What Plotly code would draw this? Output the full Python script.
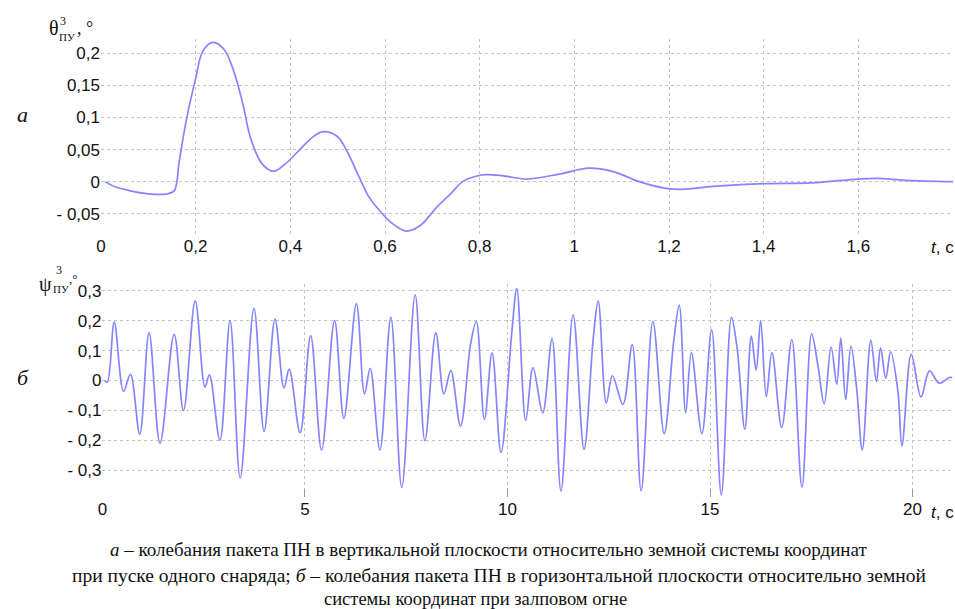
import plotly.graph_objects as go

# ---- data: top panel (а) ----
t_a = [0.008, 0.03, 0.06, 0.1, 0.14, 0.155, 0.165, 0.18, 0.2, 0.215, 0.236, 0.26, 0.281, 0.3, 0.316,
       0.34, 0.365, 0.39, 0.42, 0.45, 0.47, 0.5, 0.52, 0.545, 0.567, 0.585, 0.61, 0.645, 0.675, 0.708,
       0.74, 0.764, 0.79, 0.812, 0.85, 0.9, 0.97, 1.03, 1.08, 1.137, 1.19, 1.226, 1.3, 1.4, 1.5,
       1.6, 1.64, 1.7, 1.8]
v_a = [0.0, -0.008, -0.014, -0.019, -0.019, -0.014, 0.03, 0.095, 0.161, 0.203, 0.217, 0.206, 0.171, 0.12, 0.068,
       0.028, 0.016, 0.028, 0.05, 0.071, 0.078, 0.07, 0.047, 0.008, -0.025, -0.042, -0.062, -0.077, -0.068, -0.041,
       -0.018, 0.0, 0.008, 0.011, 0.009, 0.004, 0.012, 0.021, 0.016, 0.0, -0.01, -0.012, -0.007, -0.003, -0.002,
       0.004, 0.005, 0.002, 0.0]

# ---- data: bottom panel (б) ----
t_b = [0.05, 0.12, 0.29, 0.52, 0.69, 0.92, 1.15, 1.42, 1.77, 2.0, 2.29, 2.53, 2.64, 2.9, 3.15, 3.4, 3.74,
       3.99, 4.26, 4.48, 4.61, 4.88, 5.14, 5.41, 5.73, 5.96, 6.27, 6.47, 6.61, 6.85, 7.12, 7.39, 7.72,
       7.96, 8.23, 8.43, 8.6, 8.84, 9.09, 9.23, 9.43, 9.62, 9.84, 10.11, 10.23, 10.45, 10.63, 10.87,
       11.1, 11.32, 11.62, 11.89, 12.12, 12.24, 12.44, 12.59, 12.85, 13.08, 13.3, 13.59, 13.87, 14.1,
       14.24, 14.4, 14.54, 14.8, 15.04, 15.28, 15.53, 15.67, 15.86, 16.02, 16.14, 16.25, 16.39, 16.53,
       16.77, 17.02, 17.27, 17.51, 17.66, 17.82, 17.99, 18.13, 18.23, 18.35, 18.48, 18.62, 18.76,
       18.97, 19.11, 19.21, 19.34, 19.46, 19.64, 19.74, 19.97, 20.21, 20.42, 20.66, 20.91, 20.98]
v_b = [0.0, -0.005, 0.195, -0.036, 0.021, -0.179, 0.159, -0.209, 0.154, -0.1, 0.266, -0.022, 0.019, -0.199, 0.2, -0.325, 0.241,
       -0.17, 0.205, -0.025, 0.038, -0.174, 0.15, -0.232, 0.2, -0.126, 0.257, -0.045, 0.041, -0.232, 0.211, -0.357, 0.286,
       -0.201, 0.159, -0.045, 0.033, -0.152, 0.123, 0.197, -0.13, 0.092, -0.24, 0.167, 0.307, -0.133, 0.043, -0.108,
       0.14, -0.369, 0.219, -0.229, 0.145, 0.266, -0.075, 0.016, -0.08, 0.12, -0.368, 0.197, -0.177, 0.126,
       0.252, -0.108, 0.093, -0.177, 0.17, -0.382, 0.211, 0.107, -0.163, 0.148, 0.035, 0.2, -0.053, 0.093,
       -0.157, 0.137, -0.355, 0.156, 0.054, -0.078, 0.112, -0.012, 0.142, -0.064, 0.115, -0.025, -0.232,
       0.134, -0.003, 0.109, 0.008, 0.096, -0.036, -0.218, 0.087, -0.055, 0.032, -0.009, 0.01, 0.01]

# ---- tick labels ----
xa_vals = [0, 0.2, 0.4, 0.6, 0.8, 1.0, 1.2, 1.4, 1.6]
xa_text = ["0", "0,2", "0,4", "0,6", "0,8", "1", "1,2", "1,4", "1,6"]
ya_vals = [-0.05, 0, 0.05, 0.1, 0.15, 0.2]
ya_text = ["- 0,05", "0", "0,05", "0,1", "0,15", "0,2"]
xb_vals = [0, 5, 10, 15, 20]
xb_text = ["0", "5", "10", "15", "20"]
yb_vals = [-0.3, -0.2, -0.1, 0, 0.1, 0.2, 0.3]
yb_text = ["- 0,3", "- 0,2", "- 0,1", "0", "0,1", "0,2", "0,3"]

W, H = 955, 609
def px(x): return x / W
def py(y): return 1 - y / H

LINE = "#8585ff"
GRID = "#c4c4c4"
TICKFONT = dict(family="Liberation Sans, Arial", size=17, color="#111111")

fig = go.Figure()
fig.add_trace(go.Scatter(x=t_a, y=v_a, mode="lines", line=dict(color=LINE, width=1.7, shape="spline", smoothing=1.0),
                         xaxis="x", yaxis="y", showlegend=False, hoverinfo="skip"))
fig.add_trace(go.Scatter(x=t_b, y=v_b, mode="lines", line=dict(color=LINE, width=1.7, shape="spline", smoothing=1.0),
                         xaxis="x2", yaxis="y2", showlegend=False, hoverinfo="skip"))

common = dict(showline=False, zeroline=False, showgrid=True, gridcolor=GRID, griddash="dot", gridwidth=1,
              tickfont=TICKFONT, ticks="")

fig.update_layout(
    width=W, height=H, margin=dict(l=0, r=0, t=0, b=0),
    paper_bgcolor="white", plot_bgcolor="white",
    xaxis=dict(domain=[px(96.5), px(953)], range=[0, 1.8], tickvals=xa_vals, ticktext=xa_text,
               anchor="y", **common),
    yaxis=dict(domain=[py(233), py(37)], range=[-0.082, 0.2225], tickvals=ya_vals, ticktext=ya_text,
               anchor="x", **common),
    xaxis2=dict(domain=[px(98), px(953)], range=[0, 21.0], tickvals=xb_vals, ticktext=xb_text,
                anchor="y2", **common),
    yaxis2=dict(domain=[py(497), py(283)], range=[-0.39, 0.322], tickvals=yb_vals, ticktext=yb_text,
                anchor="x2", **common),
)
fig.update_xaxes(selector=dict(anchor="y2"), ticks="inside", ticklen=8, tickcolor="#9a9a9a", tickwidth=1)

ann = []
def A(text, x, y, size, family="Liberation Serif, Times New Roman", xanchor="center", italic=False):
    if italic:
        text = "<i>" + text + "</i>"
    ann.append(dict(text=text, x=px(x), y=py(y), xref="paper", yref="paper", showarrow=False,
                    xanchor=xanchor, yanchor="middle", font=dict(family=family, size=size, color="#111111")))

# axis titles (top)
A("θ", 49, 26, 20)
A("3", 58, 19, 12)
A("ПУ", 62, 35, 11)
A(", °", 80, 26, 18)
# axis titles (bottom)
A("ψ", 40.5, 283, 20)
A("3", 54, 269, 12)
A("ПУ", 56, 288, 11)
A(",°", 68.5, 277, 13)
# panel letters
A("а", 18, 113, 22, italic=True)
A("б", 18, 377, 22, italic=True)
# t, c labels
A("<i>t</i>, с", 942, 246, 17, family="Liberation Sans, Arial")
A("<i>t</i>, с", 942, 512, 17, family="Liberation Sans, Arial")
# caption
A("<i>а</i> – колебания пакета ПН в вертикальной плоскости относительно земной системы координат", 486, 549, 19)
A("при пуске одного снаряда; <i>б</i> – колебания пакета ПН в горизонтальной плоскости относительно земной", 497, 575, 19.5)
A("системы координат при залповом огне", 473, 599, 18.5)

fig.update_layout(annotations=ann)
fig.write_html("out.html")
